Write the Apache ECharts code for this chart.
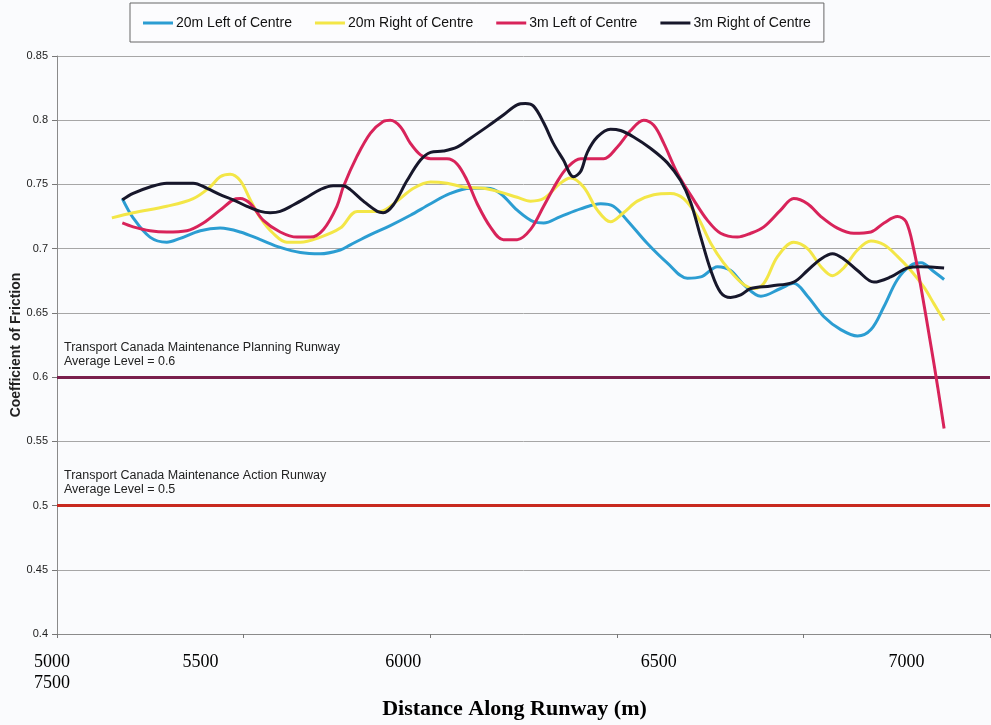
<!DOCTYPE html>
<html>
<head>
<meta charset="utf-8">
<script src="https://cdn.jsdelivr.net/npm/echarts@6/dist/echarts.min.js"></script>
<style>
html,body{margin:0;padding:0;background:#fafbfd;}
#chart{width:991px;height:725px;}
</style>
</head>
<body>
<div id="chart"></div>
<script>
// ---- data ----
const seriesNames = ['20m Left of Centre', '20m Right of Centre', '3m Left of Centre', '3m Right of Centre'];

const left20Dist = [5175,5204,5249,5294,5330,5384,5437,5491,5545,5598,5652,5705,5759,5786,5840,5893,5947,6001,6054,6108,6153,6188,6233,6277,6304,6349,6403,6457,6491,6528,6582,6635,6689,6725,6770,6805,6840,6886,6939,6974,7011,7055,7100,7145,7181,7216,7252,7288,7315,7350,7377];
const left20Cof = [0.739,0.724,0.709,0.705,0.708,0.714,0.716,0.713,0.707,0.701,0.697,0.696,0.699,0.703,0.711,0.718,0.726,0.735,0.743,0.747,0.747,0.743,0.730,0.721,0.720,0.725,0.731,0.735,0.733,0.722,0.704,0.689,0.677,0.678,0.686,0.683,0.672,0.663,0.669,0.673,0.663,0.647,0.637,0.632,0.637,0.655,0.676,0.687,0.689,0.682,0.676];

const right20Dist = [5147,5204,5294,5365,5410,5437,5464,5491,5518,5545,5579,5616,5652,5697,5759,5804,5866,5911,5955,6001,6045,6089,6143,6188,6233,6269,6304,6349,6376,6411,6448,6483,6518,6555,6599,6644,6679,6716,6752,6786,6832,6867,6894,6931,6974,7011,7047,7078,7108,7145,7181,7216,7252,7288,7323,7350,7377];
const right20Cof = [0.724,0.728,0.733,0.739,0.748,0.756,0.758,0.753,0.738,0.724,0.712,0.705,0.705,0.708,0.716,0.729,0.729,0.737,0.747,0.752,0.751,0.748,0.747,0.744,0.740,0.737,0.739,0.751,0.755,0.748,0.730,0.721,0.728,0.737,0.742,0.743,0.739,0.725,0.704,0.689,0.674,0.669,0.673,0.694,0.705,0.700,0.686,0.679,0.685,0.699,0.706,0.703,0.694,0.683,0.670,0.657,0.644];

const left3Dist = [5175,5204,5249,5294,5348,5392,5437,5472,5491,5518,5553,5598,5643,5679,5714,5750,5767,5804,5840,5874,5893,5920,5947,5974,6001,6045,6072,6099,6126,6161,6196,6233,6269,6304,6340,6367,6403,6438,6465,6501,6537,6572,6599,6626,6662,6706,6743,6778,6823,6859,6894,6939,6974,7011,7047,7091,7135,7181,7216,7252,7275,7296,7315,7342,7360,7377];
const left3Cof = [0.720,0.717,0.714,0.713,0.714,0.720,0.730,0.738,0.739,0.735,0.722,0.713,0.709,0.709,0.715,0.733,0.748,0.772,0.790,0.799,0.800,0.795,0.782,0.773,0.770,0.770,0.766,0.753,0.735,0.717,0.707,0.707,0.715,0.733,0.752,0.763,0.770,0.770,0.770,0.779,0.792,0.800,0.796,0.782,0.759,0.738,0.722,0.712,0.709,0.712,0.717,0.730,0.739,0.735,0.725,0.716,0.712,0.713,0.720,0.725,0.721,0.699,0.670,0.624,0.592,0.560];

const right3Dist = [5175,5204,5249,5294,5330,5365,5402,5437,5472,5509,5545,5571,5598,5633,5670,5705,5740,5767,5786,5821,5858,5874,5901,5938,5974,6001,6035,6072,6108,6153,6196,6233,6255,6277,6304,6330,6357,6384,6403,6421,6448,6483,6510,6545,6591,6635,6671,6698,6725,6752,6778,6805,6832,6859,6913,6974,7011,7047,7078,7108,7145,7189,7234,7279,7315,7377];
const right3Cof = [0.738,0.743,0.748,0.751,0.751,0.751,0.747,0.742,0.738,0.733,0.729,0.728,0.729,0.734,0.740,0.746,0.749,0.749,0.746,0.737,0.729,0.728,0.734,0.753,0.769,0.775,0.776,0.779,0.786,0.795,0.804,0.812,0.813,0.811,0.798,0.782,0.769,0.756,0.760,0.775,0.787,0.793,0.792,0.787,0.778,0.767,0.753,0.736,0.709,0.683,0.666,0.662,0.664,0.669,0.671,0.674,0.683,0.692,0.696,0.692,0.683,0.674,0.678,0.685,0.686,0.685];

const xTickLabels = ['5000', '5500', '6000', '6500', '7000', '7500'];
const thresholds = [0.6, 0.5];
const thresholdTexts = [
  'Transport Canada Maintenance Planning Runway\nAverage Level = 0.6',
  'Transport Canada Maintenance Action Runway\nAverage Level = 0.5'
];

// ---- styling (not data) ----
const colors = ['#2b9dd2', '#f3e647', '#d8235a', '#17172b'];
const labelShift = [-5, -43, -27, 42, 103, 0]; // px shift of typed tick labels
const rich = {};
labelShift.forEach((s, i) => {
  rich['s' + i] = {
    fontFamily: '"Liberation Serif", "Times New Roman", serif',
    fontSize: 18, color: '#000', lineHeight: 21,
    padding: s < 0 ? [0, -2 * s, 0, 0] : [0, 0, 0, 2 * s]
  };
});

function pairs(xs, ys) { return xs.map((x, i) => [x, ys[i]]); }
const dists = [left20Dist, right20Dist, left3Dist, right3Dist];
const cofs = [left20Cof, right20Cof, left3Cof, right3Cof];

const chart = echarts.init(document.getElementById('chart'));
const series = seriesNames.map((name, k) => ({
  name: name,
  type: 'line',
  data: pairs(dists[k], cofs[k]),
  smooth: 0.35,
  showSymbol: false,
  symbol: 'none',
  z: 3 + k,
  lineStyle: { color: colors[k], width: 3 },
  itemStyle: { color: colors[k] }
}));
series[0].markLine = {
  silent: true,
  symbol: ['none', 'none'],
  animation: false,
  z: 1,
  data: [
    { yAxis: thresholds[0], lineStyle: { color: '#7a1f4d', width: 3, type: 'solid' },
      label: { show: true, formatter: thresholdTexts[0] } },
    { yAxis: thresholds[1], lineStyle: { color: '#c8291f', width: 3, type: 'solid' },
      label: { show: true, formatter: thresholdTexts[1] } }
  ],
  label: {
    position: 'insideStartTop',
    distance: [7, 9],
    color: '#222',
    fontFamily: '"Liberation Sans", Arial, sans-serif',
    fontSize: 12.5,
    lineHeight: 14,
    align: 'left'
  }
};

chart.setOption({
  animation: false,
  backgroundColor: '#fafbfd',
  textStyle: { fontFamily: '"Liberation Sans", Arial, sans-serif' },
  legend: {
    data: seriesNames,
    left: 130,
    top: 3,
    padding: [13, 13, 12, 13],
    itemGap: 23,
    itemWidth: 30,
    itemHeight: 3,
    icon: 'rect',
    borderColor: '#666',
    borderWidth: 1,
    backgroundColor: '#fcfcfe',
    selectedMode: false,
    textStyle: { fontSize: 14, color: '#111', padding: [0, 0, 0, -2] }
  },
  grid: { left: 57, right: 1, top: 56, bottom: 91, containLabel: false, outerBoundsMode: 'none' },
  xAxis: {
    type: 'value',
    min: 5000,
    max: 7500,
    interval: 500,
    name: 'Distance Along Runway (m)',
    nameLocation: 'middle',
    nameGap: 64,
    nameMoveOverlap: false,
    nameTextStyle: {
      fontFamily: '"Liberation Serif", "Times New Roman", serif',
      fontWeight: 'bold', fontSize: 22, color: '#000', padding: [0, 18, 0, 0]
    },
    axisLine: { show: true, lineStyle: { color: '#8a8a8a', width: 1 } },
    axisTick: { show: true, length: 4, lineStyle: { color: '#777' } },
    splitLine: { show: false },
    axisLabel: {
      margin: 18,
      showMinLabel: true,
      showMaxLabel: true,
      formatter: function (v) {
        const i = Math.round((v - 5000) / 500);
        if (i === 5) return '';
        if (i === 0) return '{s0|' + xTickLabels[0] + '}\n{s0|' + xTickLabels[5] + '}';
        return '{s' + i + '|' + xTickLabels[i] + '}';
      },
      rich: rich
    }
  },
  yAxis: {
    type: 'value',
    min: 0.4,
    max: 0.85,
    interval: 0.05,
    name: 'Coefficient of Friction',
    nameLocation: 'middle',
    nameGap: 34,
    nameMoveOverlap: false,
    nameTextStyle: { fontWeight: 'bold', fontSize: 14, color: '#222' },
    axisLine: { show: true, lineStyle: { color: '#8a8a8a', width: 1 } },
    axisTick: { show: true, length: 5, lineStyle: { color: '#777' } },
    splitLine: { show: true, lineStyle: { color: '#a6a6a6', width: 1 } },
    axisLabel: {
      margin: 9, fontSize: 11, color: '#222',
      formatter: function (v) { return String(Math.round(v * 100) / 100); }
    }
  },
  series: series
});
</script>
</body>
</html>
